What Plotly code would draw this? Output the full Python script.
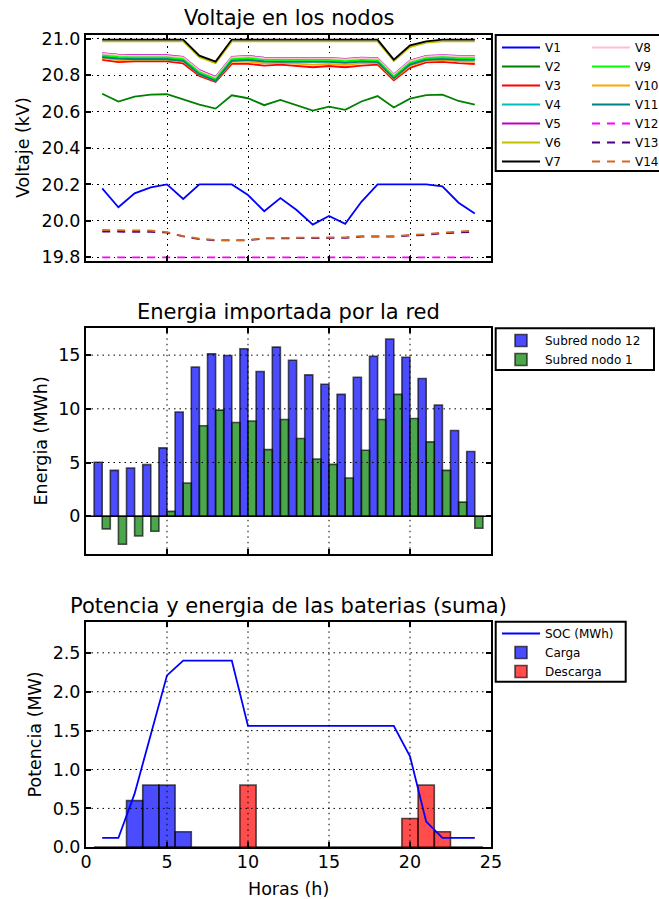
import plotly.graph_objects as go

# ---------------- data ----------------
hours = list(range(1, 25))

V1 = [20.178, 20.075, 20.151, 20.184, 20.200, 20.120, 20.200, 20.200, 20.200, 20.142, 20.053, 20.125,
      20.060, 19.980, 20.027, 19.984, 20.105, 20.200, 20.200, 20.200, 20.200, 20.190, 20.100, 20.040]
V2 = [20.698, 20.655, 20.682, 20.693, 20.695, 20.667, 20.638, 20.616, 20.689, 20.673, 20.635, 20.664,
      20.635, 20.605, 20.627, 20.609, 20.655, 20.685, 20.622, 20.671, 20.690, 20.693, 20.658, 20.638]
V3 = [20.884, 20.871, 20.875, 20.877, 20.875, 20.864, 20.795, 20.762, 20.862, 20.862, 20.852, 20.857,
      20.850, 20.843, 20.850, 20.843, 20.852, 20.857, 20.771, 20.840, 20.870, 20.873, 20.866, 20.861]
V4 = [20.902, 20.894, 20.891, 20.891, 20.891, 20.882, 20.809, 20.772, 20.882, 20.887, 20.878, 20.877,
      20.877, 20.875, 20.877, 20.871, 20.878, 20.875, 20.786, 20.862, 20.887, 20.892, 20.887, 20.887]
V5 = [20.920, 20.912, 20.909, 20.909, 20.909, 20.900, 20.827, 20.790, 20.900, 20.905, 20.896, 20.895,
      20.895, 20.893, 20.895, 20.889, 20.896, 20.893, 20.804, 20.880, 20.905, 20.910, 20.905, 20.905]
V6 = [20.985, 20.985, 20.985, 20.985, 20.985, 20.985, 20.898, 20.866, 20.985, 20.985, 20.985, 20.985,
      20.985, 20.985, 20.985, 20.985, 20.985, 20.985, 20.878, 20.954, 20.978, 20.985, 20.985, 20.985]
V7 = [20.995, 20.995, 20.995, 20.995, 20.995, 20.995, 20.907, 20.874, 20.995, 20.995, 20.995, 20.995,
      20.995, 20.995, 20.995, 20.995, 20.995, 20.995, 20.885, 20.963, 20.985, 20.995, 20.995, 20.995]
V8 = [20.917, 20.909, 20.906, 20.906, 20.906, 20.897, 20.824, 20.787, 20.897, 20.902, 20.893, 20.892,
      20.892, 20.890, 20.892, 20.886, 20.893, 20.890, 20.801, 20.877, 20.902, 20.907, 20.902, 20.902]
V9 = [20.908, 20.900, 20.897, 20.897, 20.897, 20.888, 20.815, 20.778, 20.888, 20.893, 20.884, 20.883,
      20.883, 20.881, 20.883, 20.877, 20.884, 20.881, 20.792, 20.868, 20.893, 20.898, 20.893, 20.893]
V10 = [20.893, 20.882, 20.884, 20.885, 20.884, 20.874, 20.803, 20.768, 20.872, 20.874, 20.864, 20.867,
       20.862, 20.857, 20.862, 20.856, 20.864, 20.867, 20.779, 20.850, 20.878, 20.882, 20.876, 20.873]
V11 = [20.898, 20.890, 20.887, 20.887, 20.887, 20.878, 20.805, 20.768, 20.878, 20.883, 20.874, 20.873,
       20.873, 20.871, 20.873, 20.867, 20.874, 20.871, 20.782, 20.858, 20.883, 20.888, 20.883, 20.883]
V12 = [19.800, 19.800, 19.800, 19.800, 19.800, 19.800, 19.800, 19.800, 19.800, 19.800, 19.800, 19.800,
       19.800, 19.800, 19.800, 19.800, 19.800, 19.800, 19.800, 19.800, 19.800, 19.800, 19.800, 19.800]
V13 = [19.941, 19.941, 19.941, 19.940, 19.936, 19.915, 19.900, 19.893, 19.893, 19.893, 19.904, 19.904,
       19.904, 19.904, 19.904, 19.907, 19.914, 19.914, 19.914, 19.919, 19.923, 19.932, 19.937, 19.940]
V14 = [19.950, 19.950, 19.950, 19.947, 19.938, 19.917, 19.903, 19.895, 19.895, 19.895, 19.906, 19.906,
       19.906, 19.906, 19.906, 19.910, 19.917, 19.917, 19.917, 19.923, 19.927, 19.936, 19.941, 19.947]

subred_nodo12 = [5.02, 4.27, 4.49, 4.80, 6.36, 9.70, 13.88, 15.12, 14.97, 15.59, 13.47, 15.75,
                 14.53, 13.16, 12.29, 11.35, 12.94, 14.90, 16.50, 14.81, 12.82, 10.35, 7.98, 6.02]
subred_nodo1 = [-1.18, -2.62, -1.84, -1.40, 0.45, 3.09, 8.42, 9.88, 8.73, 8.86, 6.20, 9.01,
                7.23, 5.33, 4.83, 3.55, 6.14, 9.01, 11.35, 9.10, 6.92, 4.27, 1.31, -1.12]

soc = [0.12, 0.12, 0.69, 1.45, 2.21, 2.40, 2.40, 2.40, 2.40, 1.56, 1.56, 1.56,
       1.56, 1.56, 1.56, 1.56, 1.56, 1.56, 1.56, 1.17, 0.33, 0.12, 0.12, 0.12]
carga = [0, 0, 0.6, 0.8, 0.8, 0.2, 0, 0, 0, 0, 0, 0,
         0, 0, 0, 0, 0, 0, 0, 0, 0, 0, 0, 0]
descarga = [0, 0, 0, 0, 0, 0, 0, 0, 0, 0.8, 0, 0,
            0, 0, 0, 0, 0, 0, 0, 0.37, 0.8, 0.2, 0, 0]

x_ticks = [0, 5, 10, 15, 20, 25]
y1_ticks = [19.8, 20.0, 20.2, 20.4, 20.6, 20.8, 21.0]
y2_ticks = [0, 5, 10, 15]
y3_ticks = [0.0, 0.5, 1.0, 1.5, 2.0, 2.5]

voltage_series = [
    ("V1", V1, "#0000ff", "solid"), ("V2", V2, "#008000", "solid"), ("V3", V3, "#ff0000", "solid"),
    ("V4", V4, "#00bfbf", "solid"), ("V5", V5, "#bf00bf", "solid"), ("V6", V6, "#bfbf00", "solid"),
    ("V7", V7, "#000000", "solid"), ("V8", V8, "#ffc0cb", "solid"), ("V9", V9, "#00ff00", "solid"),
    ("V10", V10, "#ffa500", "solid"), ("V11", V11, "#008080", "solid"), ("V12", V12, "#ff00ff", "dash"),
    ("V13", V13, "#4b0082", "dash"), ("V14", V14, "#d2691e", "dash"),
]

# ---------------- figure ----------------
W, H = 659, 899
FONT = "DejaVu Sans"


def px(v):
    return v / W


def py(v):
    return 1 - v / H


fig = go.Figure()

for i, (name, vals, col, dash) in enumerate(voltage_series):
    fig.add_trace(go.Scatter(
        x=hours, y=vals, mode="lines", name=name,
        line=dict(color=col, width=1.8, dash="8px,7px" if dash == "dash" else "solid"),
        xaxis="x", yaxis="y", legend="legend" if i < 7 else "legend2",
    ))

bar_line = dict(color="rgba(0,0,0,0.65)", width=1.6)
fig.add_trace(go.Bar(x=hours, y=subred_nodo12, name="Subred nodo 12", width=0.5, offset=-0.5,
                     marker=dict(color="rgba(0,0,255,0.7)", line=bar_line),
                     xaxis="x2", yaxis="y2", legend="legend3"))
fig.add_trace(go.Bar(x=hours, y=subred_nodo1, name="Subred nodo 1", width=0.5, offset=0,
                     marker=dict(color="rgba(0,128,0,0.7)", line=bar_line),
                     xaxis="x2", yaxis="y2", legend="legend3"))

fig.add_trace(go.Bar(x=hours, y=carga, name="Carga", width=1, offset=-0.5,
                     marker=dict(color="rgba(0,0,255,0.7)", line=bar_line),
                     xaxis="x3", yaxis="y3", legend="legend4", legendrank=2))
fig.add_trace(go.Bar(x=hours, y=descarga, name="Descarga", width=1, offset=-0.5,
                     marker=dict(color="rgba(255,0,0,0.7)", line=bar_line),
                     xaxis="x3", yaxis="y3", legend="legend4", legendrank=3))
fig.add_trace(go.Scatter(x=hours, y=soc, mode="lines", name="SOC (MWh)",
                         line=dict(color="#0000ff", width=1.8),
                         xaxis="x3", yaxis="y3", legend="legend4", legendrank=1))

xdom = [px(86), px(491)]
GRID = dict(gridcolor="black", griddash="1.5px,4px", gridwidth=1)
common_ax = dict(showline=True, linecolor="black", linewidth=2, mirror="ticks", ticks="inside",
                 ticklen=5, tickwidth=1.5, tickcolor="black", zeroline=False,
                 tickfont=dict(family=FONT, size=17.5, color="black"))

fig.update_layout(
    width=W, height=H, margin=dict(l=0, r=0, t=0, b=0, autoexpand=False),
    paper_bgcolor="white", plot_bgcolor="white", barmode="overlay",
    font=dict(family=FONT, color="black"),
    xaxis=dict(domain=xdom, anchor="y", range=[0, 25], tickvals=x_ticks, showticklabels=False,
               showgrid=True, **GRID, **common_ax),
    yaxis=dict(domain=[py(261), py(35)], anchor="x", range=[19.78, 21.02], tickvals=y1_ticks,
               tickformat=".1f", showgrid=True, ticklabelstandoff=0, **GRID, **common_ax),
    xaxis2=dict(domain=xdom, anchor="y2", range=[0, 25], tickvals=x_ticks, showticklabels=False,
                showgrid=False, **common_ax),
    yaxis2=dict(domain=[py(554.3), py(328.3)], anchor="x2", range=[-3.55, 17.5], tickvals=y2_ticks,
                showgrid=False, ticklabelstandoff=0, **common_ax),
    xaxis3=dict(domain=xdom, anchor="y3", range=[0, 25], tickvals=x_ticks, showgrid=False,
                ticklabelstandoff=-2, **common_ax),
    yaxis3=dict(domain=[py(847.3), py(621.7)], anchor="x3", range=[0, 2.9], tickvals=y3_ticks,
                tickformat=".1f", showgrid=False, ticklabelstandoff=0, **common_ax),
)

leg_common = dict(xanchor="left", yanchor="top", bgcolor="rgba(0,0,0,0)", borderwidth=0,
                  font=dict(family=FONT, size=12, color="black"), tracegroupgap=0, itemwidth=38)
fig.update_layout(
    legend=dict(x=px(497), y=py(33), **leg_common),
    legend2=dict(x=px(587), y=py(33), **leg_common),
    legend3=dict(x=px(497), y=py(326), **leg_common),
    legend4=dict(x=px(497), y=py(619), **leg_common),
)

shapes = []
# legend frames
for (x0, x1, y0, y1) in [(495.7, 700, 171, 35), (495.7, 654, 370, 328.3), (495.7, 625.7, 681.7, 621.7)]:
    shapes.append(dict(type="rect", xref="paper", yref="paper", x0=px(x0), x1=px(x1),
                       y0=py(y0), y1=py(y1), line=dict(color="black", width=2), fillcolor="rgba(0,0,0,0)"))
# grid lines above bars for middle and bottom panels
dot = dict(color="black", width=1, dash="1.5px,4px")
for xa, ya, yt in [("x2", "y2", y2_ticks), ("x3", "y3", y3_ticks)]:
    for v in x_ticks[1:-1]:
        shapes.append(dict(type="line", xref=xa, yref=ya + " domain", x0=v, x1=v, y0=0, y1=1,
                           line=dot, layer="above"))
    for v in yt:
        if v == 0:
            continue
        shapes.append(dict(type="line", xref=xa + " domain", yref=ya, x0=0, x1=1, y0=v, y1=v,
                           line=dot, layer="above"))
# zero line in middle panel
shapes.append(dict(type="line", xref="x2 domain", yref="y2", x0=0, x1=1, y0=0, y1=0,
                   line=dict(color="black", width=1.5), layer="above"))
fig.update_layout(shapes=shapes)

ann = []
cx = (86 + 491) / 2
for text, yc in [("Voltaje en los nodos", 18.5), ("Energia importada por la red", 312),
                 ("Potencia y energia de las baterias (suma)", 605.5)]:
    ann.append(dict(text=text, x=px(cx), y=py(yc), xref="paper", yref="paper", showarrow=False,
                    xanchor="center", yanchor="middle", font=dict(family=FONT, size=21, color="black")))
ann.append(dict(text="Horas (h)", x=px(cx), y=py(888.5), xref="paper", yref="paper", showarrow=False,
                xanchor="center", yanchor="middle", font=dict(family=FONT, size=17.5, color="black")))
for text, xc, yc in [("Voltaje (kV)", 23, 148), ("Energia (MWh)", 40.5, 441), ("Potencia (MW)", 34, 734.5)]:
    ann.append(dict(text=text, x=px(xc), y=py(yc), xref="paper", yref="paper", showarrow=False,
                    textangle=-90, xanchor="center", yanchor="middle",
                    font=dict(family=FONT, size=17.5, color="black")))
fig.update_layout(annotations=ann)

fig.write_html("out.html")
